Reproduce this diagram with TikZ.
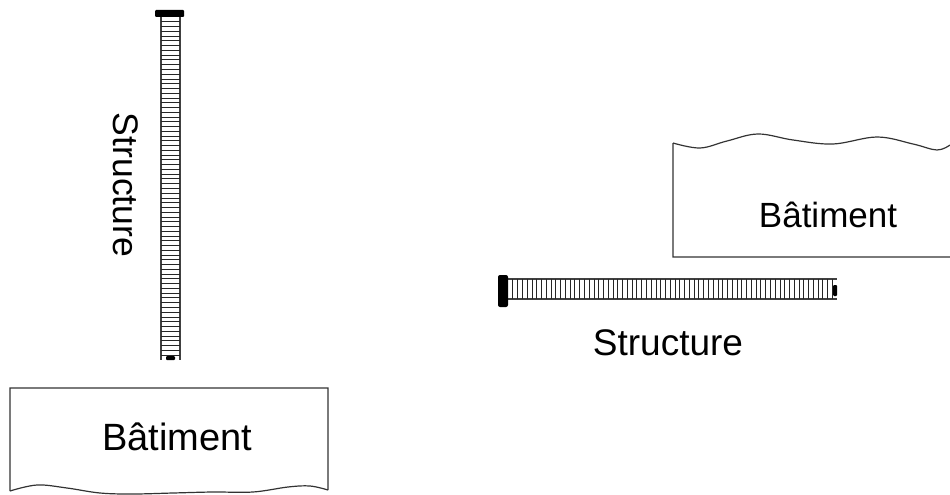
\documentclass[tikz,border=0pt]{standalone}
\usepackage{tikz}
\usepackage{xcolor}
\usepackage{fontspec}
\setmainfont{Liberation Sans}

\begin{document}
\begin{tikzpicture}[x=1pt,y=-1pt,
  wall/.style={draw=black!80,line width=1.2pt},
  rail/.style={draw=black!75,line width=1.1pt},
  rung/.style={draw=black!85,line width=0.7pt},
  label/.style={inner sep=0pt,anchor=base}]
\useasboundingbox (0,0) rectangle (950,495);

\draw[wall] (950,257) -- (673,257) -- (673,143)
  plot[smooth,tension=0.6] coordinates {(673,143) (700,148) (727,141) (758,134) (793,140) (833,144) (877,137) (913,144) (937,150) (950,145)};
\node[label,font=\fontsize{35}{40}\selectfont] (batA) at (828,227) {Bâtiment};

\draw[wall] (10,491) -- (10,388) -- (328,388) -- (328,490)
  plot[smooth,tension=0.6] coordinates {(328,490) (310,486) (288,487) (253,492) (213,492) (173,493) (133,494) (100,493) (67,488) (37,485) (10,491)};
\node[label,font=\fontsize{38}{44}\selectfont] (batB) at (177,450) {Bâtiment};

\draw[rail] (161,17) -- (161,360);
\draw[rail] (180,17) -- (180,360);
\foreach \i in {1,...,71}
  \draw[rung] (161,{17+\i*4.76}) -- (180,{17+\i*4.76});
\fill[black,rounded corners=1pt] (155,10) rectangle (184,17);
\fill[black,rounded corners=1pt] (166,356) rectangle (175,360);
\node[label,rotate=-90,font=\fontsize{35.5}{40}\selectfont] (strA) at (113,185) {Structure};

\draw[rail] (508,279) -- (837,279);
\draw[rail] (508,299) -- (837,299);
\foreach \i in {1,...,68}
  \draw[rung] ({508+\i*4.77},279) -- ({508+\i*4.77},299);
\fill[black,rounded corners=2pt] (498,275) rectangle (508,307);
\fill[black,rounded corners=1pt] (833,285) rectangle (837,296);
\node[label,font=\fontsize{37}{42}\selectfont] (strB) at (668,355) {Structure};
\end{tikzpicture}
\end{document}
